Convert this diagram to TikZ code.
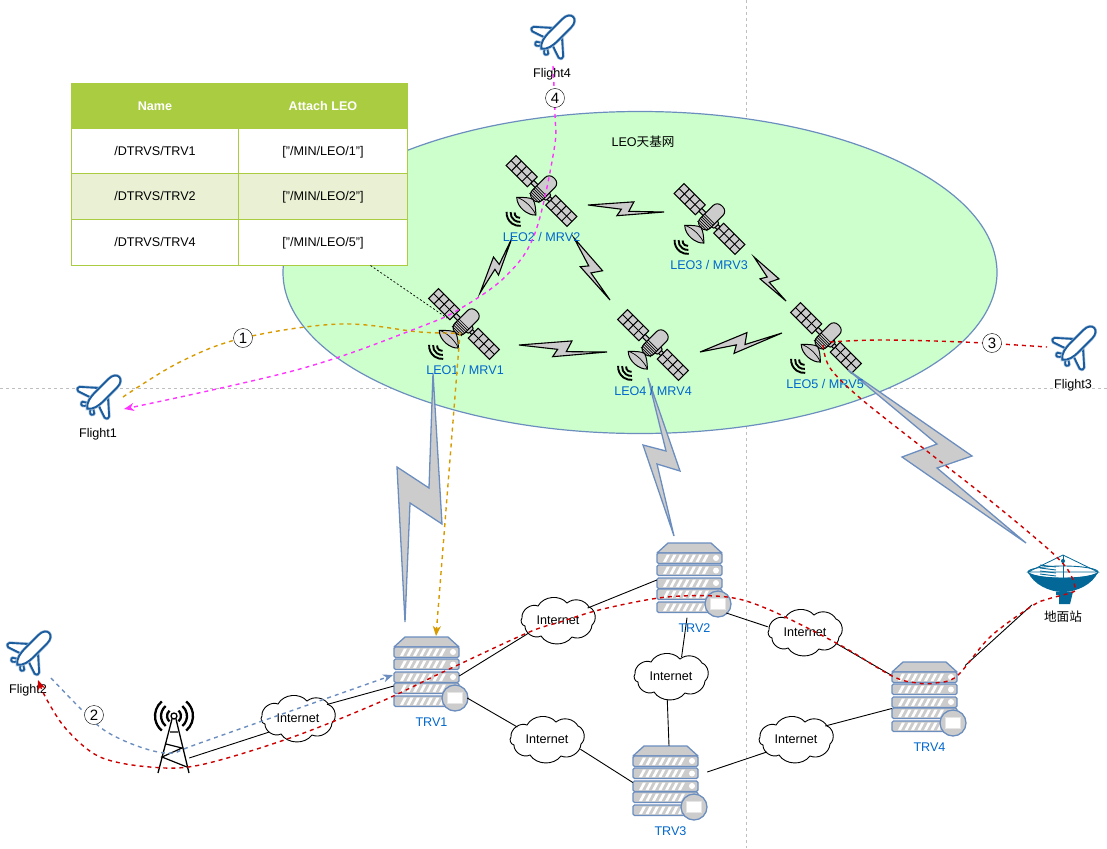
\documentclass[tikz,border=0pt]{standalone}
\usepackage{fontspec}
\setmainfont{Liberation Sans}
\newfontfamily\cjk{Noto Sans CJK SC}
\usetikzlibrary{arrows.meta,positioning,calc,shapes.symbols}
\definecolor{SkyGreen}{HTML}{CCFFCC}
\definecolor{EdgeBlue}{HTML}{6C8EBF}
\definecolor{PanelGray}{HTML}{CCCCCC}
\definecolor{LabelBlue}{HTML}{0066CC}
\definecolor{PlaneBlue}{HTML}{1A5C9E}
\definecolor{DishBlue}{HTML}{036897}
\definecolor{TableGreen}{HTML}{A9CC40}
\definecolor{TableRow}{HTML}{E9F0D4}
\definecolor{RedPath}{HTML}{CC0000}
\definecolor{OrangePath}{HTML}{D79B00}
\definecolor{PinkPath}{HTML}{FF33FF}
\tikzset{
  >={Stealth[length=10pt,width=8pt,inset=3pt]},
  every node/.style={font=\fontsize{12.6}{15}\selectfont},
  bluelabel/.style={text=LabelBlue},
  srvnode/.style={inner sep=0pt,minimum width=65pt,minimum height=70pt},
  cloudnode/.style={cloud,cloud puffs=10,cloud puff arc=115,aspect=1.6,inner sep=0pt,minimum width=76pt,minimum height=48pt},
  numnode/.style={circle,draw,fill=white,inner sep=0pt,minimum size=19pt,font=\fontsize{15}{15}\selectfont},
  cellnode/.style={draw=TableGreen,line width=1pt,inner sep=0pt,minimum height=#1,fill=white,text height=11pt,text depth=2pt},
  link/.style={draw=black,line width=.9pt},
  guide/.style={draw=black!25,dashed,line width=.8pt},
  smallflash/.style={draw=black,fill=PanelGray,line width=1.1pt,line join=miter},
  bigflash/.style={draw=EdgeBlue,fill=PanelGray,line width=1.3pt},
  routepath/.style={dashed,dash pattern=on 4pt off 4pt,line width=1.4pt},
  satline/.style={draw=black,fill=PanelGray,line width=1pt},
  srvline/.style={draw=EdgeBlue,fill=PanelGray,line width=1.3pt,line join=round},
  planeline/.style={draw=PlaneBlue,fill=white,line width=1.9pt,line join=round,preaction={draw=PlaneBlue!35,line width=3.2pt}},
  satellite/.pic={
    % panels
    \foreach \side in {-1,1} {
      \draw[satline] (-7,\side*13) rectangle (7,\side*43);
      \draw[line width=1pt] (0,\side*13) -- (0,\side*43);
      \foreach \v in {20.5,28,35.5} \draw[line width=1pt] (-7,\side*\v) -- (7,\side*\v);
    }
    \draw[satline] (-2,-13) rectangle (2,13);
    \draw[satline,rounded corners=2pt] (-4,3) rectangle (4,10);
    % body
    \draw[satline,rounded corners=6pt] (-12,-7) rectangle (18,7);
    \foreach \u in {-10,-8,...,0} \draw[line width=.7pt] (\u,-7) -- (\u,7);
    \draw[satline] (-11,0) -- (-15,0);
    % dish
    \draw[satline] (-22,-13) .. controls (-17,-8) and (-13,-4) .. (-12,0) .. controls (-13,4) and (-17,9) .. (-21,13)
      .. controls (-27,8) and (-29,-6) .. (-22,-13) -- cycle;
    \draw[line width=.7pt] (-22,-13) .. controls (-18,-6) and (-18,6) .. (-21,13);
    % waves
    \foreach \r in {5,9,13} \draw[line width=1.9pt] (-31,0) ++(130:\r pt) arc (130:230:\r pt);
  },
  aircraft/.pic={
    \foreach \side in {-1,1} {
      \draw[planeline,rounded corners=1.5pt] (7,\side*4) -- (-9,\side*22) -- (-12.5,\side*20) -- (-7,\side*4) -- cycle;
      \draw[planeline,rounded corners=1pt] (-13,\side*3) -- (-17,\side*9) -- (-20,\side*6.5) -- (-17,\side*3) -- cycle;
    }
    \draw[planeline] (-18,0) .. controls (-14,-5) and (-8,-6) .. (0,-6) -- (18,-6)
      .. controls (24,-6) and (27,-3) .. (27,0) .. controls (27,3) and (24,6) .. (18,6)
      -- (0,6) .. controls (-8,6) and (-14,5) .. (-18,0) -- cycle;
  },
  server/.pic={
    \draw[srvline] (11,0) -- (54,0) -- (65,10) -- (0,10) -- cycle;
    \foreach \y in {10,22,35,46,59} {
      \draw[srvline,rounded corners=1.5pt] (0,\y) rectangle (65,\y+10.5);
      \foreach \x in {6,12.5,...,50} \fill[white] (\x,\y+9) -- (\x+3,\y+9) -- (\x+7,\y+1.5) -- (\x+4,\y+1.5) -- cycle;
    }
    \foreach \y in {15,27.5,40} \fill[white] (59,\y) circle (3pt);
    \draw[srvline] (61,61) circle (13pt);
    \draw[draw=black!10,fill=white,line width=1pt] (53.5,55.5) rectangle (68.5,66.5);
  },
  netcloud/.pic={
    \draw[fill=white,line width=.9pt] (-36,-2) to[bend left=60] (-20,-14) to[bend left=55] (9,-17) to[bend left=50] (31,-13)
      to[bend left=60] (34,5) to[bend left=55] (14,17) to[bend left=55] (-17,16) to[bend left=60] (-33,6) to[bend left=60] (-36,-2) -- cycle;
  },
  mast/.pic={
    \draw[line width=1.3pt] (0,0) circle (3pt);
    \draw[line width=1.3pt] (-2,3) -- (-16,57);
    \draw[line width=1.3pt] (2,3) -- (15,57);
    \draw[line width=1.2pt] (-4,16) -- (4,16) (-8,28) -- (8,32) -- (-12,41) -- (13,51);
    \foreach \r in {7,13,19} {
      \draw[line width=2.3pt] (0,0) ++(-50:\r pt) arc (-50:50:\r pt);
      \draw[line width=2.3pt] (0,0) ++(130:\r pt) arc (130:230:\r pt);
    }
  },
  groundstation/.pic={
    \draw[DishBlue,fill=white,line width=.8pt] (0,-17) -- (-35,0) -- (35,0) -- cycle;
    \draw[DishBlue,line width=.9pt] (0,0) ellipse (35pt and 6pt);
    \foreach \y in {-7,-4,-1,2} \draw[DishBlue,line width=.9pt] (-23,\y) -- (-7,\y+2);
    \fill[DishBlue] (-7,19.5) -- (10,19.5) -- (9,24) -- (7,32) -- (-4,32) -- (-4,23) -- (-7,23) -- cycle;
    \fill[DishBlue] (-35,0) .. controls (-24,8) and (24,8) .. (35,0) .. controls (30,12) and (14,20) .. (0,20)
      .. controls (-14,20) and (-30,12) .. (-35,0) -- cycle;
    \draw[DishBlue,line width=1pt] (0,-17) -- (0,6);
    \fill[DishBlue] (0,-11) circle (2pt);
  },
}
\newcommand{\flash}[3]{
  \draw[smallflash] (#1) -- ($(#1)!.44!(#2)!{-0.14*#3 pt}!90:(#2)$) -- ($(#1)!.39!(#2)!{-1*#3 pt}!90:(#2)$)
    -- (#2) -- ($(#1)!.54!(#2)!{-0.32*#3 pt}!90:(#2)$) -- ($(#1)!.595!(#2)!{0.92*#3 pt}!90:(#2)$) -- cycle;
}

\begin{document}
\begin{tikzpicture}[x=1pt,y=-1pt]
  \useasboundingbox (0,0) rectangle (1107,848);
  % Guides and constellation
  \draw[guide] (746,0) -- (746,848);
  \draw[guide] (0,388) -- (1107,388);
  \draw[EdgeBlue,fill=SkyGreen,line width=1.2pt] (640,272.5) ellipse (357pt and 161pt);
  \node (skyname) at (643,142) {LEO{\cjk 天基网}};

  % Table
  \foreach \n/\y/\h/\a/\b/\bg in {1/150.5/45/{/DTRVS/TRV1}/{["/MIN/LEO/1"]}/white,2/196/46/{/DTRVS/TRV2}/{["/MIN/LEO/2"]}/TableRow,3/242/46/{/DTRVS/TRV4}/{["/MIN/LEO/5"]}/white} {
    \node[cellnode=\h pt,minimum width=167pt,fill=\bg] (cella\n) at (155,\y) {\a};
    \node[cellnode=\h pt,minimum width=169pt,fill=\bg] (cellb\n) at (323,\y) {\b};
  }
  \node[cellnode=44pt,minimum width=167pt,fill=TableGreen,text=white,font=\fontsize{12.6}{15}\selectfont\bfseries] (namehead) at (155,106) {Name};
  \node[cellnode=44pt,minimum width=169pt,fill=TableGreen,text=white,font=\fontsize{12.6}{15}\selectfont\bfseries] (leohead) at (323,106) {Attach LEO};

  % Satellites
  \foreach \n/\x/\y in {1/464/324,2/541.5/191,3/709.5/219,4/653/345,5/826/338} {
    \coordinate (leo\n) at (\x,\y);
    \pic[rotate=45] at (leo\n) {satellite};
  }
  \draw[dashed,dash pattern=on 2pt off 2pt,line width=.7pt] ([xshift=47.5pt]cellb3.south) -- ([xshift=-17pt,yshift=6pt]leo1);

  % Inter-satellite links
  \foreach \n/\ax/\ay/\bx/\by/\w in {a/480/293/512/238/7,b/519/345/607/352/9,c/588/205/664/212/8,d/574/238/610/300/9,e/754/257/786/301/8,f/700/352/782/333/9} {
    \coordinate (\n0) at (\ax,\ay);
    \coordinate (\n1) at (\bx,\by);
    \flash{\n0}{\n1}{\w}
  }
  % Feeder links
  \draw[bigflash] (433,373) -- (442,524) -- (410,503) -- (405,622) -- (397,467) -- (429,488) -- cycle;
  \draw[bigflash] (648,378) -- (680,471) -- (657,464) -- (674,536) -- (643,445) -- (666,451) -- cycle;
  \draw[bigflash] (848,370) -- (972,456) -- (937,468) -- (1026,543) -- (902,457) -- (937,444) -- cycle;

  \foreach \n/\x/\y in {1/465/370,2/541.5/237,3/709/265,4/653/391,5/825/384} {
    \node[bluelabel] (leotext\n) at (\x,\y) {LEO\n{} / MRV\n};
  }

  % Servers
  \foreach \n/\x/\y in {1/394/637,2/657/543,3/633/746,4/892/662} {
    \pic at (\x,\y) {server};
    \node[srvnode] (trv\n) at (\x+32.5,\y+35) {};
    \node[bluelabel] (trvtext\n) at (\x+37.5,\y+85) {TRV\n};
  }

  % Clouds
  \foreach \n/\x/\y in {1/298/718,2/558/620,3/547/739,4/671/676,5/805/632,6/796/739} {
    \pic at (\x,\y) {netcloud};
    \node[cloudnode] (net\n) at (\x,\y) {Internet};
  }

  % Ground
  \pic at (174,716) {mast};
  \node[minimum width=30pt,minimum height=58pt,inner sep=0pt] (tower) at (174,745) {};
  \pic at (1063,572) {groundstation};
  \node[minimum width=70pt,minimum height=50pt,inner sep=0pt] (dish) at (1063,580) {};
  \node (dishtext) at (1063,617) {\cjk 地面站};

  % Wired links
  \draw[link] ([yshift=-13pt]tower.east) -- (net1.206);
  \draw[link] (net1.25) -- ([yshift=-14pt]trv1.west);
  \draw[link] ([yshift=-4pt]trv1.east) -- (net2.204);
  \draw[link] ([xshift=8pt,yshift=-26pt]trv1.east) -- (net3.158);
  \draw[link] (net2.22) -- ([yshift=-2pt]trv2.west);
  \draw[link] ([xshift=4pt,yshift=-35pt]trv2.east) -- (net5.172);
  \draw[link] ([xshift=-2.5pt,yshift=-4.5pt]trv2.south) -- (net4.61);
  \draw[link] (net4.261) -- ([xshift=3.5pt]trv3.north);
  \draw[link] (net3.-17) -- ([yshift=-1.5pt]trv3.west);
  \draw[link] ([xshift=9pt,yshift=9pt]trv3.east) -- (net6.204);
  \draw[link] (net6.24) -- ([yshift=-11.5pt]trv4.west);
  \draw[link] (net5.-20) -- ([yshift=21.5pt]trv4.west);
  \draw[link] ([xshift=8pt,yshift=31.5pt]trv4.east) -- ([xshift=4pt,yshift=-25pt]dish.west);

  % Flights
  \foreach \n/\x/\y in {1/100/396,2/30/652,3/1075/347,4/554/36} {
    \pic[rotate=45] at (\x,\y) {aircraft};
    \node (flight\n) at (\x-2,\y+38.5) {Flight\n};
  }

  % Routes
  \draw[routepath,->,RedPath] plot[smooth,tension=.55] coordinates {(823,345) (830,368) (860,398) (923,448) (987,498) (1047,548) (1068,570) (1075,587) (1073,592) (1048,599) (1032,606) (990,637) (957,676) (935,683) (917,683) (892,676) (840,645) (770,610) (727,597) (667,597) (603,609) (560,622) (527,633) (443,672) (380,702) (290,738) (200,765) (150,767) (100,757) (67,730) (47,700) (38,680)};
  \draw[routepath,RedPath] plot[smooth,tension=.6] coordinates {(830,342) (880,340) (963,342) (1047,347)};
  \draw[routepath,->,EdgeBlue] plot[smooth,tension=.6] coordinates {(51,678) (83,711) (107,732) (143,748) (173,753) (200,743) (393,675)};
  \draw[routepath,->,OrangePath] plot[smooth,tension=.6] coordinates {(123,397) (180,362) (243,338) (340,324) (420,332) (460,333)} -- (436,636);
  \draw[routepath,->,PinkPath] plot[smooth,tension=.6] coordinates {(553,66) (555,115) (554,150) (535,233) (507,275) (463,307) (420,327) (300,369) (124,409)};

  \foreach \n/\x/\y in {1/243/338,2/94/715,3/992/343,4/555/98} {
    \node[numnode] (step\n) at (\x,\y) {\n};
  }
\end{tikzpicture}
\end{document}
